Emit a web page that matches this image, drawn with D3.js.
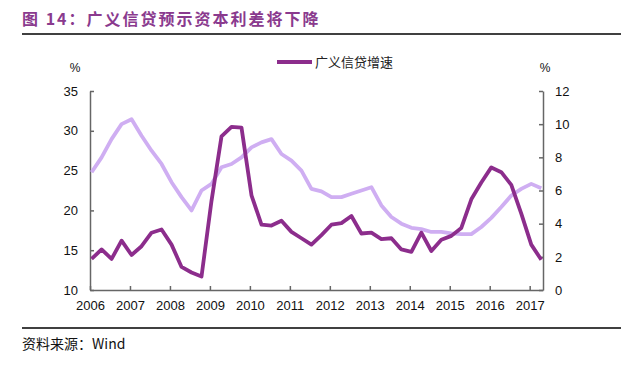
<!DOCTYPE html>
<html>
<head>
<meta charset="utf-8">
<script src="https://cdn.jsdelivr.net/npm/d3@7"></script>
<style>
  body { margin: 0; background: #fff; }
  svg text { font-family: "Liberation Sans", Arial, "Noto Sans CJK SC", sans-serif; }
</style>
</head>
<body>
<div id="graphicContainer"></div>
<script>
// quarterly, 2006Q1 .. 2017Q2
var quarters = []
for (var yr = 2006; yr <= 2017; yr++) {
  for (var q = 1; q <= 4; q++) {
    if (yr === 2017 && q > 2) break
    quarters.push(yr + "Q" + q)
  }
}

// 广义信贷增速, left axis (%)
var creditGrowth = [
  13.9, 15.1, 13.9, 16.2, 14.4, 15.5, 17.2, 17.6, 15.7, 12.9, 12.2, 11.7,
  21.2, 29.3, 30.5, 30.4, 21.9, 18.2, 18.1, 18.7, 17.3, 16.5, 15.7, 16.9,
  18.2, 18.4, 19.3, 17.1, 17.2, 16.4, 16.5, 15.1, 14.8, 17.2, 14.9, 16.3,
  16.8, 17.8, 21.4, 23.5, 25.4, 24.8, 23.2, 19.6, 15.7, 13.8
]

// 资本利差, right axis (%)
var capitalSpread = [
  7.1, 8.0, 9.1, 10.0, 10.3, 9.3, 8.4, 7.6, 6.5, 5.6, 4.8, 6.0,
  6.4, 7.4, 7.6, 8.0, 8.6, 8.9, 9.1, 8.2, 7.8, 7.2, 6.1, 5.95,
  5.6, 5.6, 5.8, 6.0, 6.2, 5.1, 4.4, 4.0, 3.75, 3.67, 3.5,
  3.5, 3.42, 3.37, 3.37, 3.8, 4.35, 5.0, 5.7, 6.1, 6.4, 6.13
]

var leftTicks = [10, 15, 20, 25, 30, 35]
var rightTicks = [0, 2, 4, 6, 8, 10, 12]
var yearTicks = d3.range(2006, 2018)

var title = "图 14：广义信贷预示资本利差将下降"
var legendLabel = "广义信贷增速"
var sourceText = "资料来源：Wind"

var W = 643, H = 376

var svg = d3.select("#graphicContainer").append("svg")
  .attr("width", W)
  .attr("height", H)

// title + rules
svg.append("text")
  .attr("x", 22).attr("y", 25)
  .attr("fill", "#8a3a8e")
  .style("font-size", "16px")
  .style("font-weight", "bold")
  .style("font-family", "'Noto Sans CJK SC', sans-serif")
  .style("letter-spacing", "2px")
  .text(title)

svg.append("line")
  .attr("x1", 22).attr("x2", 621).attr("y1", 34).attr("y2", 34)
  .attr("stroke", "#000").attr("stroke-width", 1.5)

svg.append("line")
  .attr("x1", 22).attr("x2", 621).attr("y1", 328).attr("y2", 328)
  .attr("stroke", "#000").attr("stroke-width", 1.5)

svg.append("text")
  .attr("x", 22).attr("y", 349)
  .attr("fill", "#111")
  .style("font-size", "14px")
  .style("font-family", "'Noto Sans CJK SC', sans-serif")
  .text(sourceText)

var x0 = 90, x1 = 543, yTop = 91, yBot = 290

var x = d3.scaleLinear().domain([2006, 2017 + 1 / 3]).range([x0, x1])
var yL = d3.scaleLinear().domain([10, 35]).range([yBot, yTop])
var yR = d3.scaleLinear().domain([0, 12]).range([yBot, yTop])

function qx(label) {
  var parts = label.split("Q")
  return x(+parts[0] + (+parts[1] - 1) * 0.25 + 0.04)
}

var axisColor = "#666"

var gx = svg.append("g")
  .attr("transform", "translate(0," + yBot + ")")
  .call(d3.axisBottom(x).tickValues(yearTicks).tickFormat(d3.format("d"))
    .tickSize(-4).tickSizeOuter(0).tickPadding(11))
var gl = svg.append("g")
  .attr("transform", "translate(" + x0 + ",0)")
  .call(d3.axisLeft(yL).tickValues(leftTicks).tickSize(-4).tickSizeOuter(0).tickPadding(12))
var gr = svg.append("g")
  .attr("transform", "translate(" + x1 + ",0)")
  .call(d3.axisRight(yR).tickValues(rightTicks).tickSize(-4).tickSizeOuter(0).tickPadding(12))

;[gx, gl, gr].forEach(function (g) {
  g.select(".domain").attr("stroke", axisColor).attr("stroke-width", 1.5)
  g.selectAll(".tick line").attr("stroke", axisColor).attr("stroke-width", 1.5)
  g.selectAll(".tick text").attr("fill", "#111").style("font-size", "13px")
})

svg.append("text").attr("x", 75).attr("y", 72).attr("text-anchor", "middle")
  .attr("fill", "#111").style("font-size", "12px").text("%")
svg.append("text").attr("x", 545).attr("y", 72).attr("text-anchor", "middle")
  .attr("fill", "#111").style("font-size", "12px").text("%")

var lineL = d3.line()
  .x(function (d, i) { return qx(quarters[i]) })
  .y(function (d) { return yL(d) })
var lineR = d3.line()
  .x(function (d, i) { return qx(quarters[i]) })
  .y(function (d) { return yR(d) })

svg.append("path")
  .datum(capitalSpread)
  .attr("d", lineR)
  .attr("fill", "none")
  .attr("stroke", "#cfaef2")
  .attr("stroke-width", 3.8)
  .attr("stroke-linejoin", "round")

svg.append("path")
  .datum(creditGrowth)
  .attr("d", lineL)
  .attr("fill", "none")
  .attr("stroke", "#8c2d8c")
  .attr("stroke-width", 3.8)
  .attr("stroke-linejoin", "round")

// legend
svg.append("line")
  .attr("x1", 277).attr("x2", 312).attr("y1", 62).attr("y2", 62)
  .attr("stroke", "#8c2d8c").attr("stroke-width", 4)
svg.append("text")
  .attr("x", 315).attr("y", 67)
  .attr("fill", "#222")
  .style("font-size", "13px")
  .style("font-family", "'Noto Sans CJK SC', sans-serif")
  .text(legendLabel)
</script>
</body>
</html>
